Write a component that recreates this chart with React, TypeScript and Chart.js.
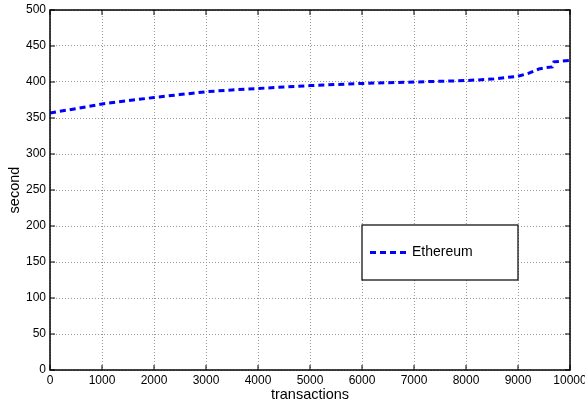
import React, { useEffect, useRef } from "react";
import { Chart, registerables } from "chart.js";

Chart.register(...registerables);

const transactions = [0, 500, 1000, 1500, 2000, 2500, 3000, 3500, 4000, 4500, 5000, 5500, 6000, 6500, 7000, 7500, 8000, 8500, 9000, 9200, 9400, 9550, 9660, 9690, 10000];
const seconds = [357, 363, 369.5, 374, 378.5, 382.5, 386.5, 389, 391, 393, 395, 396.5, 398, 399, 400, 401, 402, 404, 408, 412, 418, 420, 421, 428, 430];
const seriesLabel = "Ethereum";
const xTickValues = [0, 1000, 2000, 3000, 4000, 5000, 6000, 7000, 8000, 9000, 10000];
const yTickValues = [0, 50, 100, 150, 200, 250, 300, 350, 400, 450, 500];
const xTitle = "transactions";
const yTitle = "second";

const FONT = "'Liberation Sans', Arial, Helvetica, sans-serif";

const framePlugin = {
  id: "frame",
  afterDatasetsDraw(chart: any) {
    const { ctx, chartArea: a, scales } = chart;
    ctx.save();
    ctx.strokeStyle = "#000";
    ctx.lineWidth = 1.5;
    ctx.setLineDash([]);
    ctx.strokeRect(a.left, a.top, a.right - a.left, a.bottom - a.top);
    ctx.lineWidth = 1;
    const t = 5;
    for (const v of xTickValues) {
      const x = scales.x.getPixelForValue(v);
      ctx.beginPath();
      ctx.moveTo(x, a.bottom);
      ctx.lineTo(x, a.bottom - t);
      ctx.moveTo(x, a.top);
      ctx.lineTo(x, a.top + t);
      ctx.stroke();
    }
    for (const v of yTickValues) {
      const y = scales.y.getPixelForValue(v);
      ctx.beginPath();
      ctx.moveTo(a.left, y);
      ctx.lineTo(a.left + t, y);
      ctx.moveTo(a.right, y);
      ctx.lineTo(a.right - t, y);
      ctx.stroke();
    }
    // legend
    const lx = 362, ly = 225, lw = 156, lh = 55;
    ctx.fillStyle = "#fff";
    ctx.fillRect(lx, ly, lw, lh);
    ctx.strokeStyle = "#000";
    ctx.lineWidth = 1.2;
    ctx.strokeRect(lx, ly, lw, lh);
    const ds = chart.data.datasets[0];
    ctx.strokeStyle = ds.borderColor;
    ctx.lineWidth = ds.borderWidth;
    ctx.setLineDash(ds.borderDash);
    ctx.beginPath();
    ctx.moveTo(lx + 8, ly + lh / 2);
    ctx.lineTo(lx + 44, ly + lh / 2);
    ctx.stroke();
    ctx.setLineDash([]);
    ctx.fillStyle = "#000";
    ctx.font = `14px ${FONT}`;
    ctx.textBaseline = "middle";
    ctx.textAlign = "left";
    ctx.fillText(ds.label, lx + 50, ly + lh / 2);
    ctx.restore();
  },
};

export default function App() {
  const ref = useRef<HTMLCanvasElement>(null);
  useEffect(() => {
    if (!ref.current) return;
    const chart = new Chart(ref.current, {
      type: "line",
      data: {
        datasets: [
          {
            label: seriesLabel,
            data: transactions.map((x, i) => ({ x, y: seconds[i] })),
            borderColor: "#0000ff",
            borderWidth: 3,
            borderDash: [6, 4],
            pointRadius: 0,
            fill: false,
            tension: 0,
          },
        ],
      },
      options: {
        responsive: false,
        animation: false,
        layout: { padding: { left: 0, right: 15, top: 10, bottom: 0 } },
        plugins: { legend: { display: false }, tooltip: { enabled: false } },
        scales: {
          x: {
            type: "linear",
            min: 0,
            max: 10000,
            afterBuildTicks: (s: any) => {
              s.ticks = xTickValues.map((v) => ({ value: v }));
            },
            afterFit: (s: any) => {
              s.height = 35;
              s.paddingLeft = 0;
              s.paddingRight = 0;
            },
            grid: { color: "#999", lineWidth: 1, drawTicks: false },
            border: { display: false, dash: [1, 2] },
            ticks: {
              color: "#000",
              font: { family: FONT, size: 12 },
              padding: 3,
              maxRotation: 0,
              autoSkip: false,
              callback: (v: any) => String(v),
            },
            title: { display: true, text: xTitle, color: "#000", font: { family: FONT, size: 14.5 }, padding: { top: 0, bottom: 1 } },
          },
          y: {
            type: "linear",
            min: 0,
            max: 500,
            afterBuildTicks: (s: any) => {
              s.ticks = yTickValues.map((v) => ({ value: v }));
            },
            afterFit: (s: any) => {
              s.width = 50;
              s.paddingTop = 0;
              s.paddingBottom = 0;
            },
            grid: { color: "#999", lineWidth: 1, drawTicks: false },
            border: { display: false, dash: [1, 2] },
            ticks: {
              color: "#000",
              font: { family: FONT, size: 12 },
              padding: 4,
              autoSkip: false,
              callback: (v: any) => String(v),
            },
            title: { display: true, text: yTitle, color: "#000", font: { family: FONT, size: 14.5 }, padding: { top: 6, bottom: 0 } },
          },
        },
      },
      plugins: [framePlugin],
    });
    return () => chart.destroy();
  }, []);
  return (
    <div style={{ position: "fixed", left: 0, top: 0, width: 585, height: 405, background: "#fff" }}>
      <canvas ref={ref} width={585} height={405} />
    </div>
  );
}
